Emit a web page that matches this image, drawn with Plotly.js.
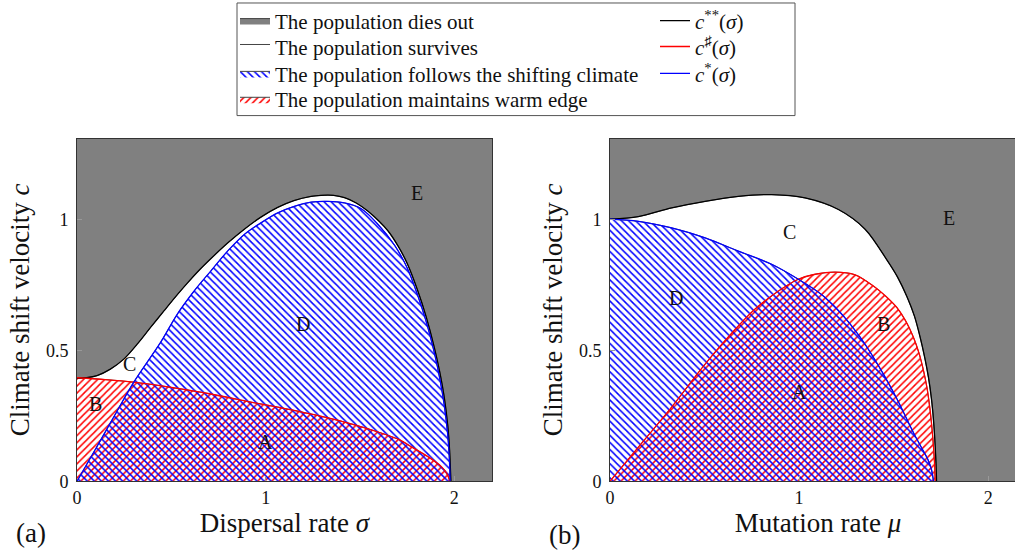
<!DOCTYPE html>
<html><head><meta charset="utf-8">
<script src="https://cdn.plot.ly/plotly-3.0.1.min.js"></script>
<style>html,body{margin:0;padding:0;overflow:hidden;background:#fff}#chart{width:1026px;height:551px}</style>
</head><body><div id="chart"></div>
<script>
// ---------- Panel (a): dispersal rate sigma ----------
const sigmaCss = [0, 0.05, 0.106, 0.177, 0.248, 0.319, 0.39, 0.461, 0.532, 0.585, 0.65, 0.709, 0.8, 0.887, 0.975, 1.064, 1.15, 1.241, 1.294, 1.33, 1.36, 1.418, 1.48, 1.543, 1.649, 1.70, 1.75, 1.805, 1.85, 1.894, 1.925, 1.947, 1.965, 1.975, 1.982];
const cCssA    = [0.393, 0.395, 0.403, 0.428, 0.466, 0.523, 0.587, 0.650, 0.712, 0.756, 0.807, 0.849, 0.910, 0.962, 1.008, 1.045, 1.071, 1.087, 1.091, 1.092, 1.091, 1.082, 1.062, 1.030, 0.955, 0.900, 0.832, 0.730, 0.630, 0.511, 0.410, 0.320, 0.215, 0.12, 0];

const sigmaSharp = [0, 0.15, 0.301, 0.5, 0.709, 0.9, 1.064, 1.25, 1.418, 1.596, 1.716, 1.773, 1.862, 1.933, 1.96, 1.977];
const cSharpA    = [0.395, 0.388, 0.378, 0.358, 0.333, 0.305, 0.283, 0.255, 0.226, 0.188, 0.156, 0.131, 0.093, 0.055, 0.03, 0];

const sigmaStar = [0, 0.1, 0.2, 0.301, 0.443, 0.532, 0.621, 0.709, 0.798, 0.887, 0.975, 1.064, 1.152, 1.241, 1.33, 1.418, 1.507, 1.596, 1.684, 1.75, 1.805, 1.85, 1.894, 1.925, 1.947, 1.965, 1.973, 1.978];
const cStarA    = [0, 0.125, 0.252, 0.378, 0.53, 0.638, 0.726, 0.802, 0.878, 0.942, 0.986, 1.024, 1.049, 1.065, 1.068, 1.062, 1.040, 0.980, 0.900, 0.815, 0.712, 0.612, 0.492, 0.385, 0.29, 0.18, 0.1, 0];

// ---------- Panel (b): mutation rate mu ----------
const muCss = [0, 0.15, 0.326, 0.503, 0.679, 0.855, 1.032, 1.208, 1.349, 1.464, 1.52, 1.57, 1.61, 1.64, 1.665, 1.684, 1.70, 1.711, 1.72, 1.725, 1.727];
const cCssB = [1.0, 1.01, 1.043, 1.068, 1.087, 1.094, 1.081, 1.037, 0.962, 0.845, 0.78, 0.705, 0.63, 0.55, 0.47, 0.397, 0.315, 0.232, 0.13, 0.05, 0];

const muSharp = [0, 0.15, 0.326, 0.503, 0.66, 0.767, 0.891, 0.996, 1.085, 1.19, 1.296, 1.393, 1.46, 1.517, 1.565, 1.605, 1.635, 1.658, 1.678, 1.693, 1.703, 1.711, 1.717, 1.72];
const cSharpB = [0, 0.13, 0.283, 0.447, 0.578, 0.657, 0.726, 0.771, 0.790, 0.798, 0.788, 0.745, 0.705, 0.663, 0.61, 0.549, 0.487, 0.422, 0.35, 0.27, 0.2, 0.13, 0.06, 0];

const muStar = [0, 0.15, 0.326, 0.503, 0.679, 0.855, 0.996, 1.12, 1.217, 1.323, 1.429, 1.517, 1.605, 1.65, 1.68, 1.70, 1.711];
const cStarB = [1.0, 0.992, 0.967, 0.929, 0.878, 0.828, 0.771, 0.712, 0.645, 0.55, 0.43, 0.315, 0.185, 0.125, 0.085, 0.045, 0];

// ---------- axes / labels ----------
const xRange = [0, 2.2];
const yRange = [0, 1.308];
const xTickVals = [0, 1, 2];
const yTickVals = [0, 0.5, 1];
const yTickText = ['0', '0.5', '1'];

const regionText = ['A', 'B', 'C', 'D', 'E'];
const regionXA = [1.0, 0.098, 0.28, 1.20, 1.80];
const regionYA = [0.15, 0.295, 0.447, 0.60, 1.10];
const regionXB = [1.0, 1.446, 0.947, 0.347, 1.794];
const regionYB = [0.34, 0.602, 0.951, 0.698, 1.003];

const legendFill = ['The population dies out', 'The population survives', 'The population follows the shifting climate', 'The population maintains warm edge'];
const legendLine = ['<i>c</i><sup>**</sup>(<i>σ</i>)', '<i>c</i><sup>♯</sup>(<i>σ</i>)', '<i>c</i><sup>*</sup>(<i>σ</i>)'];

const GRAY = '#808080', RED = '#ff0000', BLUE = '#0000ff';
const FONT = 'Liberation Serif, Times New Roman, serif';
const LSHAPE = {shape: 'spline', smoothing: 0.9};

function panel(xa, ya, xs, css, xSh, cSh, xSt, cSt, show) {
  const t = [];
  t.push({x: xRange, y: [yRange[1], yRange[1]], xaxis: xa, yaxis: ya, mode: 'lines', fill: 'tozeroy',
    fillcolor: GRAY, line: {color: '#444', width: 1}, name: legendFill[0], legend: 'legend', showlegend: show, hoverinfo: 'skip'});
  t.push({x: xs, y: css, xaxis: xa, yaxis: ya, mode: 'lines', fill: 'tozeroy',
    fillcolor: '#ffffff', line: Object.assign({color: '#444', width: 1}, LSHAPE), name: legendFill[1], legend: 'legend2', showlegend: show, hoverinfo: 'skip'});
  t.push({x: xSh, y: cSh, xaxis: xa, yaxis: ya, mode: 'lines', fill: 'tozeroy',
    fillpattern: {shape: '/', fgcolor: RED, bgcolor: 'rgba(0,0,0,0)', size: 5, solidity: 0.3},
    line: Object.assign({color: '#444', width: 1}, LSHAPE), name: legendFill[3], legend: 'legend4', showlegend: show, hoverinfo: 'skip'});
  t.push({x: xSt, y: cSt, xaxis: xa, yaxis: ya, mode: 'lines', fill: 'tozeroy',
    fillpattern: {shape: '\\', fgcolor: BLUE, bgcolor: 'rgba(0,0,0,0)', size: 5, solidity: 0.3},
    line: Object.assign({color: '#444', width: 1}, LSHAPE), name: legendFill[2], legend: 'legend3', showlegend: show, hoverinfo: 'skip'});
  t.push({x: xs, y: css, xaxis: xa, yaxis: ya, mode: 'lines', line: Object.assign({color: '#000', width: 1.3}, LSHAPE),
    name: legendLine[0], legend: 'legend5', showlegend: show, hoverinfo: 'skip'});
  t.push({x: xSh, y: cSh, xaxis: xa, yaxis: ya, mode: 'lines', line: Object.assign({color: RED, width: 1.3}, LSHAPE),
    name: legendLine[1], legend: 'legend6', showlegend: show, hoverinfo: 'skip'});
  t.push({x: xSt, y: cSt, xaxis: xa, yaxis: ya, mode: 'lines', line: Object.assign({color: BLUE, width: 1.3}, LSHAPE),
    name: legendLine[2], legend: 'legend7', showlegend: show, hoverinfo: 'skip'});
  return t;
}

const data = [].concat(
  panel('x', 'y', sigmaCss, cCssA, sigmaSharp, cSharpA, sigmaStar, cStarA, true),
  panel('x2', 'y2', muCss, cCssB, muSharp, cSharpB, muStar, cStarB, false)
);

const W = 1026, H = 551;
function xax(dom, title, anchor) {
  return {domain: dom, range: xRange, anchor: anchor, tickvals: xTickVals, ticks: 'inside', ticklen: 5,
    tickcolor: '#999', showline: true, linecolor: '#333', linewidth: 1, mirror: true, showgrid: false,
    zeroline: false, tickfont: {size: 18, family: FONT, color: '#111'}, ticklabelstandoff: 0,
    title: {text: title, font: {size: 27, family: FONT, color: '#111'}, standoff: 0}};
}
function yax(anchor) {
  return {domain: [70 / H, 414 / H], range: yRange, anchor: anchor, tickvals: yTickVals, ticktext: yTickText,
    ticks: 'inside', ticklen: 5, tickcolor: '#999', showline: true, linecolor: '#333', linewidth: 1, mirror: true,
    showgrid: false, zeroline: false, tickfont: {size: 18, family: FONT, color: '#111'}, ticklabelstandoff: 4,
    title: {text: 'Climate shift velocity <i>c</i>', font: {size: 27, family: FONT, color: '#111'}, standoff: 8}};
}

const annotations = [];
regionText.forEach((s, i) => {
  annotations.push({x: regionXA[i], y: regionYA[i], xref: 'x', yref: 'y', text: s, showarrow: false, font: {size: 20, family: FONT, color: '#111'}});
  annotations.push({x: regionXB[i], y: regionYB[i], xref: 'x2', yref: 'y2', text: s, showarrow: false, font: {size: 20, family: FONT, color: '#111'}});
});
annotations.push({x: 31 / W, y: 1 - 533 / H, xref: 'paper', yref: 'paper', xanchor: 'center', yanchor: 'middle', text: '(a)', showarrow: false, font: {size: 27, family: FONT, color: '#111'}});
annotations.push({x: 564 / W, y: 1 - 535 / H, xref: 'paper', yref: 'paper', xanchor: 'center', yanchor: 'middle', text: '(b)', showarrow: false, font: {size: 27, family: FONT, color: '#111'}});

function leg(xpx, ypx) {
  return {x: xpx / W, y: 1 - ypx / H, xanchor: 'left', yanchor: 'middle', bgcolor: 'rgba(0,0,0,0)', borderwidth: 0,
    font: {size: 21, family: FONT, color: '#111'}};
}

const layout = {
  width: W, height: H, margin: {l: 0, r: 0, t: 0, b: 0},
  paper_bgcolor: '#fff', plot_bgcolor: GRAY,
  font: {family: FONT, color: '#111'},
  xaxis: xax([77 / W, 492 / W], 'Dispersal rate <i>σ</i>', 'y'),
  yaxis: yax('x'),
  xaxis2: xax([610 / W, 1], 'Mutation rate <i>μ</i>', 'y2'),
  yaxis2: yax('x2'),
  legend: leg(235, 19), legend2: leg(235, 45), legend3: leg(235, 72), legend4: leg(235, 98),
  legend5: leg(655, 19), legend6: leg(655, 45), legend7: leg(655, 72),
  shapes: [{type: 'rect', xref: 'paper', yref: 'paper', x0: 237 / W, x1: 795 / W, y0: 1 - 114 / H, y1: 1 - 1 / H,
    line: {color: '#555', width: 1}, fillcolor: 'rgba(0,0,0,0)'}],
  annotations: annotations,
  showlegend: true
};

Plotly.newPlot('chart', data, layout, {displayModeBar: false, staticPlot: true});
</script></body></html>
